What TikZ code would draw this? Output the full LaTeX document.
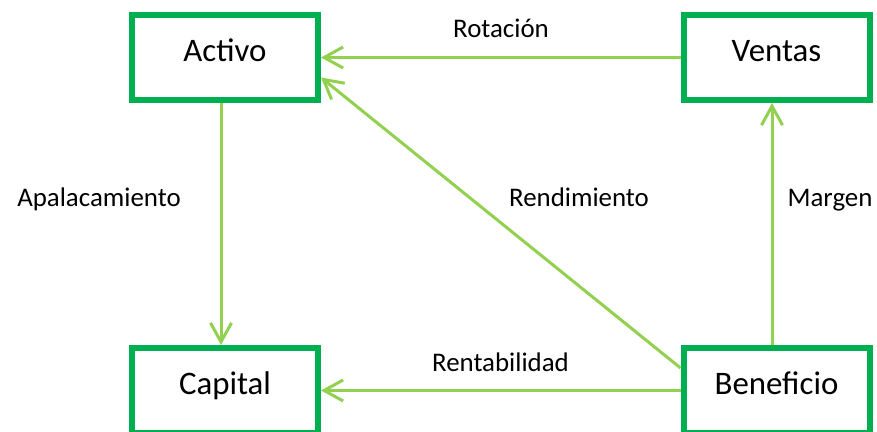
\documentclass[tikz,border=0pt]{standalone}
\usepackage{fontspec}
\setmainfont{Carlito}
\usetikzlibrary{arrows.meta}
\definecolor{boxgreen}{HTML}{00B050}
\definecolor{linegreen}{HTML}{92D050}

\begin{document}
\begin{tikzpicture}[
	box/.style={draw=boxgreen, line width=0.12cm, minimum width=3.72cm, minimum height=1.7cm, text height=0.44cm, text depth=0.26cm, font=\fontsize{18.7}{22}\selectfont},
	conn/.style={draw=linegreen, line width=0.06cm, -{Straight Barb[length=0.38cm, width=0.42cm]}},
	lbl/.style={anchor=base, font=\fontsize{15.3}{18}\selectfont}]
	\useasboundingbox (0,0) rectangle (17.54,8.64);
	
	\node[box] (act) at (4.5,7.49) {Activo};
	\node[box] (ven) at (15.53,7.49) {Ventas};
	\node[box] (cap) at (4.5,0.83) {Capital};
	\node[box] (ben) at (15.53,0.83) {Beneficio};
	
	\draw[conn] (ven.west) -- (act.east);
	\draw[conn] ([xshift=-0.08cm]act.south) -- ([xshift=-0.08cm]cap.north);
	\draw[conn] ([yshift=0.45cm]ben.west) -- ([yshift=-0.4cm]act.east);
	\draw[conn] ([xshift=-0.09cm]ben.north) -- ([xshift=-0.09cm]ven.south);
	\draw[conn] (ben.west) -- (cap.east);
	
	\node[lbl] (rot) at (10.02,7.88) {Rotaci\'on};
	\node[lbl] (apa) at (1.98,4.5) {Apalacamiento};
	\node[lbl] (ren) at (11.58,4.5) {Rendimiento};
	\node[lbl] (mar) at (16.6,4.5) {Margen};
	\node[lbl] (rnt) at (10.01,1.2) {Rentabilidad};
\end{tikzpicture}
\end{document}
